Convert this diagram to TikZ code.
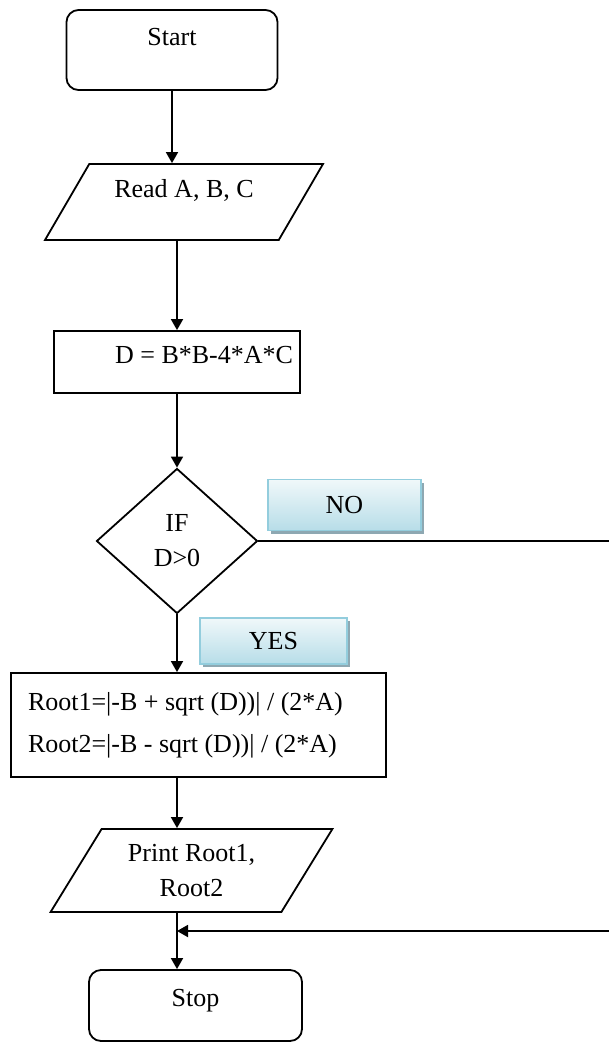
\documentclass[tikz,border=0pt]{standalone}
\usepackage{fontspec}
\setmainfont{Liberation Serif}
\usetikzlibrary{shapes.geometric,arrows.meta,shadows}

\definecolor{tagline}{HTML}{93CDDD}
\definecolor{tagtop}{HTML}{F0F8FA}
\definecolor{tagbot}{HTML}{B7DDE8}
\definecolor{tagshade}{HTML}{8EA8B2}

\begin{document}
\begin{tikzpicture}[
    x=0.5pt, y=-0.5pt,
    all/.style={draw, line width=0.9pt, inner sep=0pt,
        font=\fontsize{13}{17.5}\selectfont},
    term/.style={all, rectangle, rounded corners=6pt},
    io/.style={all, trapezium, trapezium stretches=true},
    proc/.style={all, rectangle},
    test/.style={all, diamond, align=flush center},
    up/.style={text height=9pt, text depth=#1},
    tag/.style={rectangle, draw=tagline, line width=0.8pt,
        top color=tagtop, bottom color=tagbot,
        drop shadow={shadow xshift=1.5pt, shadow yshift=-1.5pt,
            fill=tagshade, opacity=1},
        font=\fontsize{13}{17.5}\selectfont},
    flow/.style={line width=0.9pt, -{Triangle[length=5.5pt,width=6pt]}},
]
    \useasboundingbox (0,0) rectangle (609,1045);

    % the boxes of the chart
    \node [term, up=13.4pt, minimum width=105.5pt, minimum height=40pt]
        (start) at (172,50) {Start};
    \node [io, up=13.4pt, trapezium left angle=54, trapezium right angle=126,
        minimum width=139pt, minimum height=38pt]
        (read) at (184,202) {Read A, B, C};
    \node [proc, up=7.4pt, align=flush right, inner xsep=3.5pt, text width=116pt,
        minimum height=31pt]
        (calc) at (177,362) {D = B*B-4*A*C};
    \node [test, minimum width=80.5pt, minimum height=72.5pt]
        (test) at (177,541) {IF\\D>0};
    \node [proc, align=flush left, inner xsep=8.5pt, text width=170.5pt,
        minimum height=52pt]
        (roots) at (198.5,725)
        {Root1=|-B + sqrt (D))| / (2*A)\\[3.5pt]Root2=|-B - sqrt (D))| / (2*A)};
    \node [io, align=flush center, trapezium left angle=55.5, trapezium right angle=124.5,
        minimum width=141.5pt, minimum height=41.5pt]
        (print) at (191.5,870.5) {Print Root1,\\Root2};
    \node [term, up=7.9pt, minimum width=106.5pt, minimum height=35.5pt]
        (stop) at (195.5,1005.5) {Stop};

    % branch tags
    \node [tag, minimum width=76.5pt, minimum height=25.5pt] (no) at (344.5,505) {NO};
    \node [tag, minimum width=73.5pt, minimum height=23pt] (yes) at (273.5,641) {YES};

    \coordinate (spine) at (177,0);
    \coordinate (edge) at (611,0);
    \coordinate (merge) at (177,931);

    % connectors
    \draw [flow] (start) -- (start |- read.north);
    \draw [flow] (read.south -| spine) -- (calc.north -| spine);
    \draw [flow] (calc.south -| spine) -- (test.north);
    \draw [flow] (test.south) -- (roots.north -| test.south);
    \draw [flow] (roots.south -| spine) -- (print.north -| spine);
    \draw [flow] (print.south -| spine) -- (stop.north -| spine);
    \draw [flow] (test.east) -- (test.east -| edge) -- (edge |- merge) -- (merge);
\end{tikzpicture}
\end{document}
